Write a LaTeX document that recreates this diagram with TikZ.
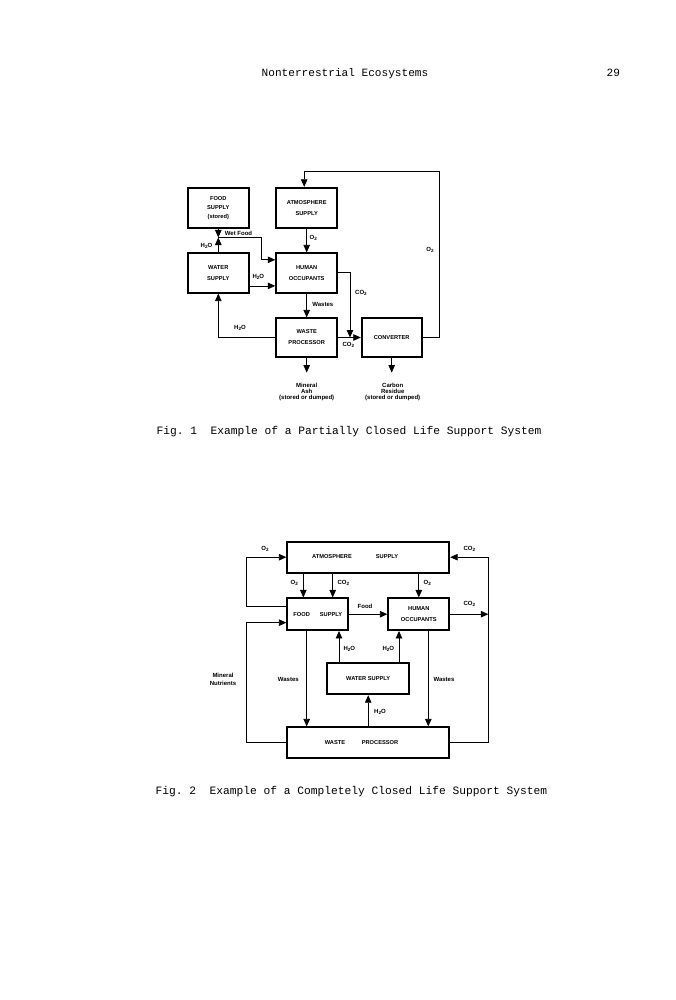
\documentclass[tikz,border=0pt]{standalone}
\usepackage{fontspec}
\setmainfont{Liberation Sans}
\newfontfamily\capfont{Liberation Mono}
\usetikzlibrary{arrows.meta,calc}
\newcommand\lsub[1]{\raisebox{-0.9pt}{\fontsize{4.6}{4.6}\selectfont #1}}
\begin{document}
\begin{tikzpicture}[x=1pt,y=-1pt,
  box/.style={draw, line width=1.8pt, inner sep=0pt, align=center,
    font=\fontsize{5.7}{11}\selectfont\bfseries},
  lab/.style={inner sep=0pt, align=center, font=\fontsize{6}{6.3}\selectfont\bfseries},
  boxtxt/.style={inner sep=0pt, font=\fontsize{5.7}{11}\selectfont\bfseries},
  arr/.style={line width=0.8pt, -{Triangle[length=7.5pt,width=6.5pt]}},
  captxt/.style={inner sep=0pt, font=\capfont\fontsize{11.25}{13}\selectfont}]
\fill[white] (0,0) rectangle (675,1000);
\useasboundingbox (0,0) rectangle (675,1000);

% header
\node[inner sep=0pt, font=\capfont\fontsize{11.1}{13}\selectfont] (hdr) at (345,73.3) {Nonterrestrial Ecosystems};
\node[inner sep=0pt, font=\capfont\fontsize{11.1}{13}\selectfont] (pg) at (613.3,72.7) {29};

% ---------------- Fig. 1 ----------------
\node[box, minimum width=61pt, minimum height=40.6pt] (food1) at (218.3,208) {FOOD\\[-1.8pt]SUPPLY\\[-2.5pt](stored)};
\node[box, minimum width=61pt, minimum height=40.6pt] (atm1) at (306.7,208) {ATMOSPHERE\\SUPPLY};
\node[box, minimum width=61pt, minimum height=39.4pt] (water1) at (218.3,273) {WATER\\SUPPLY};
\node[box, minimum width=61pt, minimum height=39.4pt] (human1) at (306.7,273) {HUMAN\\OCCUPANTS};
\node[box, minimum width=61pt, minimum height=38.4pt] (waste1) at (306.7,337.5) {WASTE\\PROCESSOR};
\node[box, minimum width=60pt, minimum height=38.4pt] (conv) at (391.7,337.5) {CONVERTER};

\coordinate (T1) at (439.3,171.7);
\coordinate (J) at (218.3,237.5);
\coordinate (WFx) at (261.7,0);
\coordinate (Cx) at (350,0);
\coordinate (hw) at ([yshift=-7.4pt]human1.north west);

\draw[arr] (conv.east) -| (T1) -| ([xshift=-2.5pt]atm1.north);
\draw[arr] (atm1.south) -- (human1.north);
\draw[arr] (food1.south) -- (J);
\draw[arr] (water1.north) -- (J);
\draw[arr] (J) -| (WFx |- hw) -- (hw);
\draw[arr] ([yshift=7.7pt]water1.south east) -- ([yshift=7.7pt]human1.south west);
\draw[arr] ([yshift=-20pt]human1.north east) -| (Cx |- waste1.east);
\draw[arr] (waste1.east) -- (conv.west);
\draw[arr] (human1.south) -- (waste1.north);
\draw[arr] (waste1.west) -| (water1.south);
\coordinate (ash) at ([yshift=-15pt]waste1.south);
\coordinate (carb) at ([yshift=-15pt]conv.south);
\draw[arr] (waste1.south) -- (ash);
\draw[arr] (conv.south) -- (carb);

\node[lab] (f1a) at (238.5,233.5) {Wet Food};
\node[lab] (f1b) at (206.5,245.5) {H\lsub{2}O};
\node[lab] (f1c) at (313.3,238.3) {O\lsub{2}};
\node[lab] (f1d) at (430,250) {O\lsub{2}};
\node[lab] (f1e) at (258.3,276.7) {H\lsub{2}O};
\node[lab] (f1f) at (361,293.3) {CO\lsub{2}};
\node[lab] (f1g) at (322.8,304.2) {Wastes};
\node[lab] (f1h) at (240,327.7) {H\lsub{2}O};
\node[lab] (f1i) at (348.3,345) {CO\lsub{2}};
\node[lab, anchor=north] (f1j) at (306.7,382.5) {Mineral\\Ash\\(stored or dumped)};
\node[lab, anchor=north] (f1k) at (392.7,382.5) {Carbon\\Residue\\(stored or dumped)};

\node[captxt, anchor=west] (cap1) at (156.5,431.7) {Fig.\ 1\ \ Example of a Partially Closed Life Support System};

% ---------------- Fig. 2 ----------------
\node[box, minimum width=162pt, minimum height=31pt] (atm2) at (368.3,557.2) {};
\node[boxtxt] (atm2a) at (332,556.7) {ATMOSPHERE};
\node[boxtxt] (atm2b) at (387,556.7) {SUPPLY};
\node[box, minimum width=61pt, minimum height=31.7pt] (food2) at (317.8,614.2) {FOOD\hspace{10pt}SUPPLY};
\node[box, minimum width=61pt, minimum height=31.7pt] (human2) at (418.8,614.2) {HUMAN\\OCCUPANTS};
\node[box, minimum width=81.7pt, minimum height=31.6pt] (water2) at (368.2,678.5) {WATER SUPPLY};
\node[box, minimum width=162pt, minimum height=31pt] (waste2) at (367.7,742.8) {};
\node[boxtxt] (waste2a) at (335,742.7) {WASTE};
\node[boxtxt] (waste2b) at (380,742.7) {PROCESSOR};

\coordinate (Lx) at (246.5,0);
\coordinate (Rx) at (488.3,0);
\coordinate (a1) at (303.3,0);
\coordinate (a2) at (332.7,0);
\coordinate (w1) at (306.7,0);
\coordinate (w2) at (428.3,0);
\coordinate (h1) at (339,0);
\coordinate (h2) at (399,0);
\coordinate (fl) at ([yshift=8.3pt]food2.south west);

\draw[arr] ([yshift=-9pt]food2.north west) -| (Lx |- atm2.west) -- (atm2.west);
\draw[arr] (atm2.south -| a1) -- (food2.north -| a1);
\draw[arr] (atm2.south -| a2) -- (food2.north -| a2);
\draw[arr] (atm2.south -| human2.north) -- (human2.north);
\draw[arr] (food2.east) -- (human2.west);
\draw[arr] (human2.east) -- (Rx |- human2.east);
\draw[arr] (waste2.east) -| (Rx |- atm2.east) -- (atm2.east);
\draw[arr] (waste2.west) -| (Lx |- fl) -- (fl);
\draw[arr] (food2.south -| w1) -- (waste2.north -| w1);
\draw[arr] (human2.south -| w2) -- (waste2.north -| w2);
\draw[arr] (water2.north -| h1) -- (food2.south -| h1);
\draw[arr] (water2.north -| h2) -- (human2.south -| h2);
\draw[arr] (waste2.north -| water2.south) -- (water2.south);

\node[lab] (f2a) at (265,549.3) {O\lsub{2}};
\node[lab] (f2b) at (469.3,549.3) {CO\lsub{2}};
\node[lab] (f2c) at (294.3,582.7) {O\lsub{2}};
\node[lab] (f2d) at (343.3,582.7) {CO\lsub{2}};
\node[lab] (f2e) at (427.3,582.7) {O\lsub{2}};
\node[lab] (f2f) at (365,606.7) {Food};
\node[lab] (f2g) at (469.3,604) {CO\lsub{2}};
\node[lab] (f2h) at (349.3,649.3) {H\lsub{2}O};
\node[lab] (f2i) at (388.3,649.3) {H\lsub{2}O};
\node[lab, font=\fontsize{6}{8.3}\selectfont\bfseries] (f2j) at (223,679) {Mineral\\Nutrients};
\node[lab] (f2k) at (288.3,679) {Wastes};
\node[lab] (f2l) at (444,679) {Wastes};
\node[lab] (f2m) at (380,711.7) {H\lsub{2}O};

\node[captxt, anchor=west] (cap2) at (155.5,791.7) {Fig.\ 2\ \ Example of a Completely Closed Life Support System};
\end{tikzpicture}
\end{document}
